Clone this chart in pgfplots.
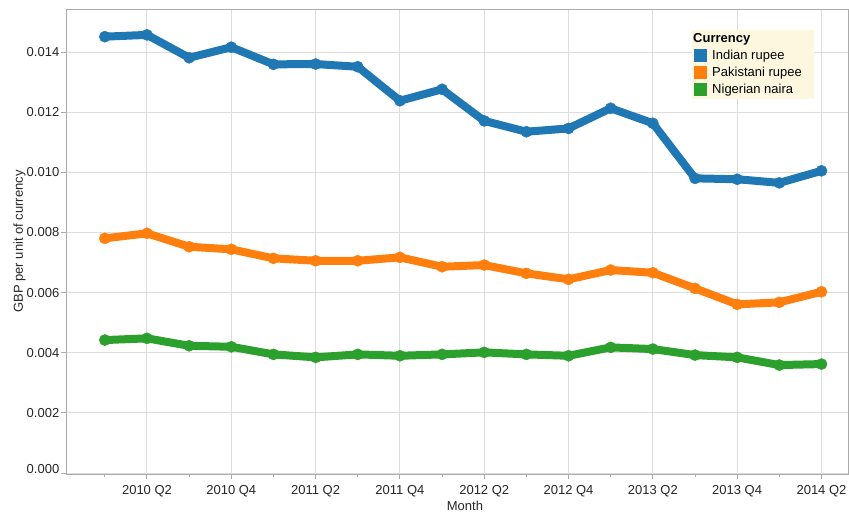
\documentclass[border=0pt]{standalone}
\usepackage{pgfplots}
\pgfplotsset{compat=1.18}
\usepackage{fontspec}
\setmainfont{Liberation Sans}
\definecolor{cblue}{HTML}{1F77B4}
\definecolor{corange}{HTML}{FF7F0E}
\definecolor{cgreen}{HTML}{2CA02C}
\definecolor{gridc}{HTML}{DDDDDD}
\definecolor{axc}{HTML}{AAAAAA}
\definecolor{legbg}{HTML}{FEF7E0}
\begin{document}
\begin{tikzpicture}
\path[use as bounding box] (-49.725pt,-28.5pt) rectangle (587.025pt,355.5pt);
\begin{axis}[
  at={(0pt,0pt)}, anchor=south west,
  scale only axis, width=586.3pt, height=348.75pt,
  xmin=-0.914, xmax=17.63, ymin=-0.00003, ymax=0.01543,
  axis line style={axc, line width=0.75pt},
  xtick={1,3,5,7,9,11,13,15,17},
  xticklabels={2010 Q2,2010 Q4,2011 Q2,2011 Q4,2012 Q2,2012 Q4,2013 Q2,2013 Q4,2014 Q2},
  minor xtick={0,2,4,6,8,10,12,14,16},
  ytick={0,0.002,0.004,0.006,0.008,0.010,0.012,0.014},
  yticklabels={\raisebox{6pt}{0.000},0.002,0.004,0.006,0.008,0.010,0.012,0.014},
  scaled y ticks=false,
  xmajorgrids, ymajorgrids,
  major grid style={gridc, line width=0.75pt},
  tick align=outside, major tick length=3.75pt, minor tick length=2.25pt,
  tick style={axc, line width=0.75pt},
  xtick pos=lower, ytick pos=left,
  tick label style={font=\fontsize{9.75}{11}\selectfont, text=black!85},
  yticklabel style={xshift=2pt},
  xticklabel style={yshift=-1pt},
  label style={font=\fontsize{9.75}{11}\selectfont, text=black!85},
  xlabel={Month}, ylabel={GBP per unit of currency},
  xlabel style={at={(axis description cs:0.51,-0.068)}, anchor=center},
  ylabel style={at={(axis description cs:-0.060,0.5)}, anchor=center},
  legend style={at={(0.8,0.9563)}, anchor=north west, fill=legbg, draw=none,
    inner xsep=1.7pt, inner ysep=2.15pt, column sep=0pt, row sep=3pt,
    nodes={inner sep=0pt, text height=7.5pt, text depth=2pt},
    font=\fontsize{9.75}{11}\selectfont},
  legend cell align=left,
  legend image code/.code={\fill[#1,draw=none] (0pt,-4.875pt) rectangle (9.75pt,4.875pt);},
  every axis plot/.append style={line width=6pt, line join=round, line cap=round,
    mark=*, mark size=4.2pt, mark options={line width=0.3pt}},
]
\addlegendimage{empty legend}
\addlegendentry{\makebox[78.75pt][l]{\hspace*{-10.5pt}\textbf{Currency}}}
\addplot[cblue] coordinates {
(0,0.01451)(1,0.01457)(2,0.01381)(3,0.01416)(4,0.01359)(5,0.01360)(6,0.01351)(7,0.01238)(8,0.01276)
(9,0.01171)(10,0.01135)(11,0.01146)(12,0.01213)(13,0.01163)(14,0.00980)(15,0.00977)(16,0.00965)(17,0.01005)};
\addlegendentry{\makebox[78.75pt][l]{\hspace*{3.75pt}Indian rupee}}
\addplot[corange] coordinates {
(0,0.007805)(1,0.007972)(2,0.007526)(3,0.007440)(4,0.007140)(5,0.007060)(6,0.007060)(7,0.007173)(8,0.006861)
(9,0.006917)(10,0.006641)(11,0.006442)(12,0.006751)(13,0.006661)(14,0.006142)(15,0.005610)(16,0.005677)(17,0.006029)};
\addlegendentry{\makebox[78.75pt][l]{\hspace*{3.75pt}Pakistani rupee}}
\addplot[cgreen] coordinates {
(0,0.004423)(1,0.004480)(2,0.004233)(3,0.004200)(4,0.003947)(5,0.003848)(6,0.003947)(7,0.003901)(8,0.003947)
(9,0.004014)(10,0.003947)(11,0.003901)(12,0.004180)(13,0.004124)(14,0.003924)(15,0.003848)(16,0.003592)(17,0.003625)};
\addlegendentry{\makebox[78.75pt][l]{\hspace*{3.75pt}Nigerian naira}}
\end{axis}
\end{tikzpicture}
\end{document}
